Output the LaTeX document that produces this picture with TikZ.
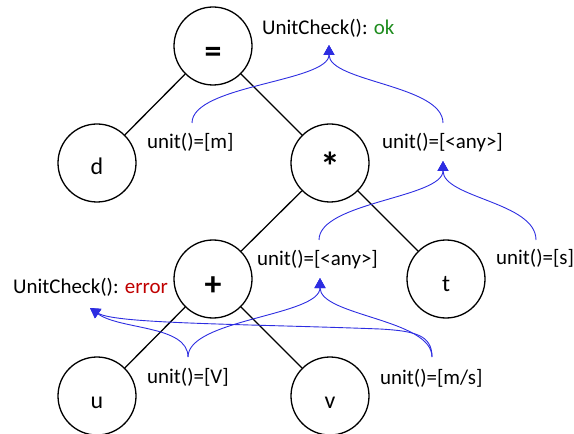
\documentclass[tikz,border=0pt]{standalone}
\usepackage{fontspec}
\setmainfont{Carlito}
\usetikzlibrary{arrows.meta}
\definecolor{bl}{RGB}{45,45,225}
\definecolor{okgreen}{RGB}{30,140,30}
\definecolor{errred}{RGB}{192,0,0}
\begin{document}
\begin{tikzpicture}[x=1bp,y=-1bp,
  circ/.style={circle,draw,line width=1.3bp,minimum size=78bp,inner sep=0pt,
    text height=24bp,text depth=0pt,font=\fontsize{24}{28}\selectfont},
  opn/.style={circ,font=\fontsize{34}{38}\selectfont\bfseries},
  lbl/.style={anchor=base west,inner sep=0pt,font=\fontsize{21}{25}\selectfont},
  edge/.style={line width=1.3bp},
  flow/.style={bl,line width=0.9bp,-{Triangle[width=11bp,length=10bp]}}]
\useasboundingbox (0,0) rectangle (574,434);
% tree nodes
\node[opn,text height=34bp] (eq) at (213,46) {=};
\node[circ] (d) at (97,163) {d};
\node[opn,text height=36bp,font=\fontsize{40}{44}\selectfont\bfseries] (mul) at (330,163) {*};
\node[opn,text height=32bp] (plus) at (213,279) {+};
\node[circ] (t) at (446,279) {t};
\node[circ] (u) at (97,396) {u};
\node[circ] (v) at (330,396) {v};
% edges
\draw[edge] (eq) -- (d);
\draw[edge] (eq) -- (mul);
\draw[edge] (mul) -- (plus);
\draw[edge] (mul) -- (t);
\draw[edge] (plus) -- (u);
\draw[edge] (plus) -- (v);
% labels
\node[lbl] (ok) at (262,35) {UnitCheck(): \textcolor{okgreen}{ok}};
\node[lbl] (um) at (147,149) {unit()=[m]};
\node[lbl] (umul) at (382,149) {unit()=[<any>]};
\node[lbl] (uplus) at (257,266) {unit()=[<any>]};
\node[lbl] (us) at (496,265) {unit()=[s]};
\node[lbl] (err) at (13,293) {UnitCheck(): \textcolor{errred}{error}};
\node[lbl] (uV) at (147,383) {unit()=[V]};
\node[lbl] (ums) at (380,384) {unit()=[m/s]};
% connector endpoints
\coordinate (okin) at (329,45);
\coordinate (umout) at (192,123);
\coordinate (umulout) at (443,123);
\coordinate (umulin) at (443,161);
\coordinate (uplusout) at (319,240);
\coordinate (usout) at (536,240);
\coordinate (uplusin) at (320,278);
\coordinate (uVout) at (188,357);
\coordinate (umsout) at (432,357);
\coordinate (errin) at (90,308);
% flows
\draw[flow] (umout) .. controls (192,85) and (329,82) .. (okin);
\draw[flow] (umulout) .. controls (443,85) and (329,82) .. (okin);
\draw[flow] (uplusout) .. controls (319,202) and (443,198) .. (umulin);
\draw[flow] (usout) .. controls (536,202) and (443,198) .. (umulin);
\draw[flow] (uVout) .. controls (188,319) and (320,316) .. (uplusin);
\draw[flow] (umsout) .. controls (432,319) and (320,316) .. (uplusin);
\draw[flow] (uVout) .. controls (188,325) and (120,330) .. (errin);
\draw[flow] (umsout) .. controls (432,335) and (415,331) .. (380,329) .. controls (250,324) and (115,324) .. (errin);
\end{tikzpicture}
\end{document}
